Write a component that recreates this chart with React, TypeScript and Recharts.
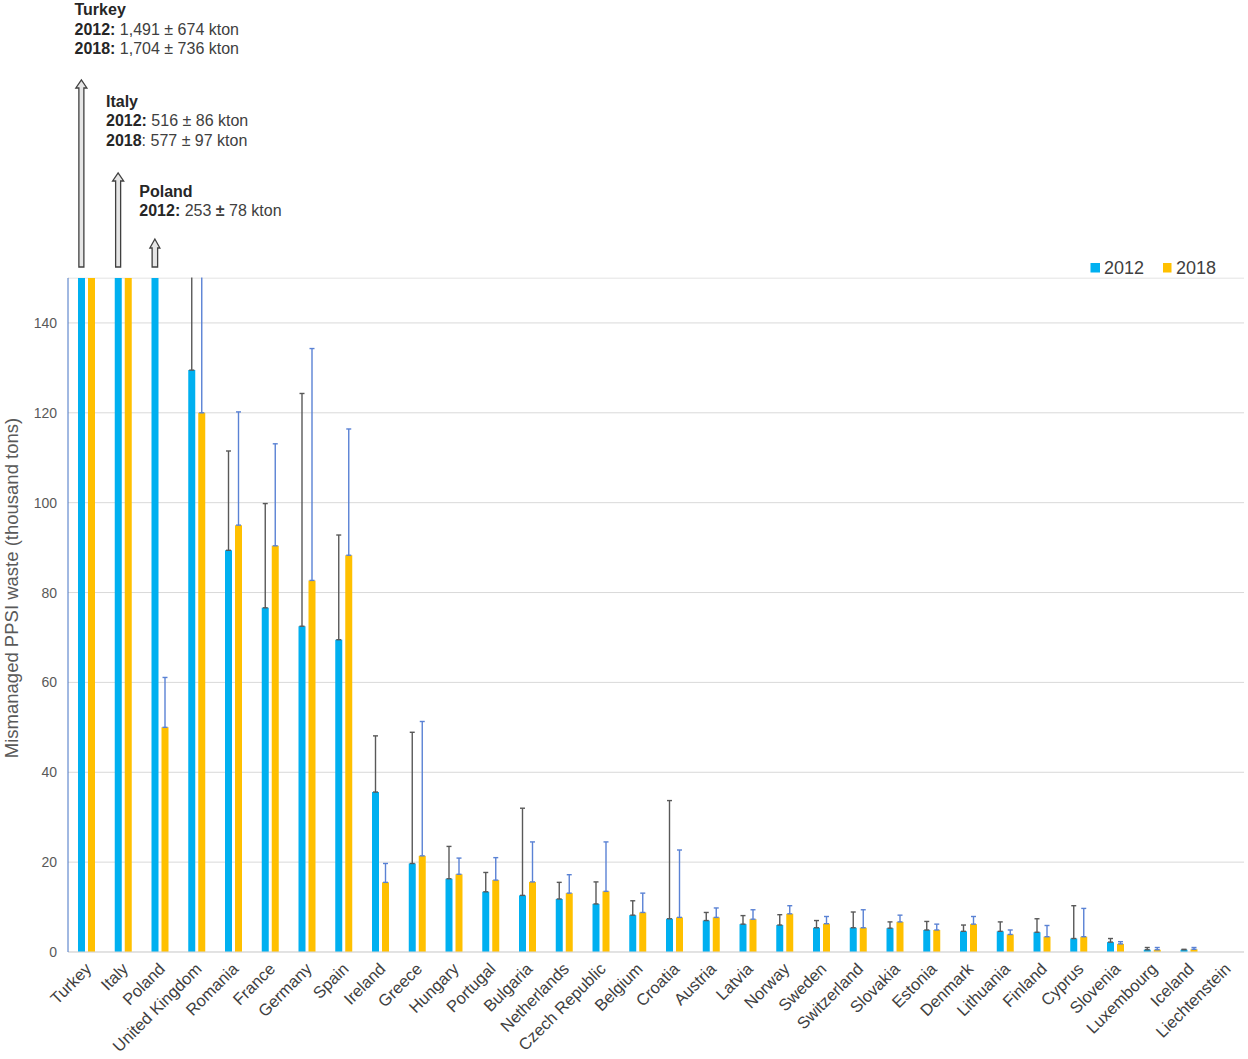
import { Bar, BarChart, CartesianGrid, ErrorBar, XAxis, YAxis } from "recharts";

const countries = [
  "Turkey", "Italy", "Poland", "United Kingdom", "Romania", "France", "Germany", "Spain",
  "Ireland", "Greece", "Hungary", "Portugal", "Bulgaria", "Netherlands", "Czech Republic", "Belgium",
  "Croatia", "Austria", "Latvia", "Norway", "Sweden", "Switzerland", "Slovakia", "Estonia",
  "Denmark", "Lithuania", "Finland", "Cyprus", "Slovenia", "Luxembourg", "Iceland", "Liechtenstein",
];

// thousand tons
const values2012 = [
  1491, 516, 253, 129.5, 89.4, 76.6, 72.5, 69.5,
  35.6, 19.7, 16.3, 13.4, 12.6, 11.8, 10.7, 8.2,
  7.4, 7.0, 6.2, 6.0, 5.4, 5.4, 5.3, 4.9,
  4.6, 4.6, 4.4, 3.0, 2.2, 0.5, 0.5, 0,
];
const upper2012 = [
  674, 86, 78, 45, 22.1, 23.2, 51.8, 23.3,
  12.5, 29.2, 7.2, 4.3, 19.4, 3.7, 4.9, 3.2,
  26.3, 1.8, 1.9, 2.3, 1.6, 3.5, 1.4, 1.9,
  1.4, 2.1, 3.0, 7.3, 0.8, 0.5, 0.1, 0,
];
const values2018 = [
  1704, 577, 50, 120, 95.0, 90.4, 82.7, 88.3,
  15.5, 21.4, 17.3, 16.0, 15.6, 13.1, 13.5, 8.8,
  7.7, 7.7, 7.3, 8.5, 6.3, 5.4, 6.7, 4.9,
  6.2, 3.9, 3.4, 3.4, 1.8, 0.5, 0.6, 0,
];
const upper2018 = [
  736, 97, 11.1, 40, 25.2, 22.7, 51.6, 28.1,
  4.2, 29.9, 3.6, 5.0, 8.9, 4.1, 11.0, 4.3,
  15.0, 2.1, 2.1, 1.8, 1.6, 4.0, 1.5, 1.3,
  1.7, 1.0, 2.5, 6.3, 0.5, 0.5, 0.4, 0,
];
const yTicks = [0, 20, 40, 60, 80, 100, 120, 140];

const data = countries.map((country, i) => ({
  country,
  y2012: values2012[i],
  y2018: values2018[i],
  e2012: [0, upper2012[i]],
  e2018: [0, upper2018[i]],
}));

const FONT = "'Liberation Sans', Arial, sans-serif";
const W = 1248;
const H = 1059;
const PLOT_LEFT = 68;
const PLOT_TOP = 278;
const PLOT_W = 1176;
const band = PLOT_W / countries.length;
const blueX = (i: number) => PLOT_LEFT + band * (i + 0.5) - 5;

// callouts for the off-scale bars
const arrows = [
  { i: 0, top: 80, headH: 8, headW: 11, shaftW: 5 },
  { i: 1, top: 173, headH: 8, headW: 11, shaftW: 5 },
  { i: 2, top: 239, headH: 9, headW: 10, shaftW: 5.5 },
];

function CountryTick(props: any) {
  const { x, y, payload } = props;
  const ax = x + 6;
  const ay = y + 10;
  return (
    <text
      x={ax}
      y={ay}
      textAnchor="end"
      transform={`rotate(-45, ${ax}, ${ay})`}
      fontSize={16.5}
      fill="#404040"
      fontFamily={FONT}
    >
      {payload.value}
    </text>
  );
}

function YLabel(props: any) {
  const { viewBox } = props;
  const cx = 17.5;
  const cy = viewBox.y + viewBox.height / 2 - 27;
  return (
    <text
      x={cx}
      y={cy}
      textAnchor="middle"
      transform={`rotate(-90, ${cx}, ${cy})`}
      fontSize={18.5}
      fill="#595959"
      fontFamily={FONT}
    >
      Mismanaged PPSI waste (thousand tons)
    </text>
  );
}

function arrowPath(cx: number, top: number, bottom: number, headH: number, headW: number, shaftW: number) {
  const s = shaftW / 2;
  const h = headW / 2;
  return `M${cx - s},${bottom} L${cx - s},${top + headH} L${cx - h},${top + headH} L${cx},${top} L${cx + h},${top + headH} L${cx + s},${top + headH} L${cx + s},${bottom} Z`;
}

export default function App() {
  return (
    <div style={{ position: "relative", width: W, height: H, fontFamily: FONT }}>
      <style>{"body{margin:0}"}</style>
      <BarChart
        width={W}
        height={H}
        data={data}
        margin={{ top: PLOT_TOP, right: W - PLOT_LEFT - PLOT_W, bottom: 0, left: 0 }}
        barSize={7}
        barGap={3}
      >
        <CartesianGrid vertical={false} stroke="#d9d9d9" />
        <XAxis
          dataKey="country"
          interval={0}
          height={107}
          tickLine={false}
          axisLine={{ stroke: "#d9d9d9" }}
          tick={<CountryTick />}
        />
        <YAxis
          domain={[0, 150]}
          allowDataOverflow
          ticks={yTicks}
          width={PLOT_LEFT}
          tickLine={false}
          axisLine={{ stroke: "#4472c4" }}
          tick={{ fill: "#595959", fontSize: 14, fontFamily: FONT }}
          tickMargin={5}
          label={<YLabel />}
        />
        <Bar dataKey="y2012" fill="#00b0f0" isAnimationActive={false}>
          <ErrorBar dataKey="e2012" direction="y" width={2.5} stroke="#595959" strokeWidth={1.4} />
        </Bar>
        <Bar dataKey="y2018" fill="#ffc000" isAnimationActive={false}>
          <ErrorBar dataKey="e2018" direction="y" width={2.5} stroke="#5a82d4" strokeWidth={1.4} />
        </Bar>
      </BarChart>

      <svg width={W} height={H} style={{ position: "absolute", left: 0, top: 0, pointerEvents: "none" }}>
        {/* the plot is cut at 150: hide whiskers that run past the top */}
        <rect x={PLOT_LEFT + 1} y={0} width={PLOT_W} height={PLOT_TOP - 0.5} fill="#ffffff" />

        {arrows.map((a) => (
          <path
            key={a.i}
            d={arrowPath(blueX(a.i), a.top, PLOT_TOP - 11, a.headH, a.headW, a.shaftW)}
            fill="#e6e6e6"
            stroke="#404040"
            strokeWidth={1.3}
          />
        ))}

        <g fontSize={16} fontFamily={FONT} fill="#404040">
          <text x={74.5} y={15} fontWeight="bold" fill="#262626">Turkey</text>
          <text x={74.5} y={35}>
            <tspan fontWeight="bold" fill="#262626">2012:</tspan> 1,491 ± 674 kton
          </text>
          <text x={74.5} y={54}>
            <tspan fontWeight="bold" fill="#262626">2018:</tspan> 1,704 ± 736 kton
          </text>

          <text x={106} y={107} fontWeight="bold" fill="#262626">Italy</text>
          <text x={106} y={126}>
            <tspan fontWeight="bold" fill="#262626">2012:</tspan> 516 ± 86 kton
          </text>
          <text x={106} y={145.5}>
            <tspan fontWeight="bold" fill="#262626">2018</tspan>: 577 ± 97 kton
          </text>

          <text x={139.3} y={196.5} fontWeight="bold" fill="#262626">Poland</text>
          <text x={139.3} y={216}>
            <tspan fontWeight="bold" fill="#262626">2012:</tspan> 253 <tspan fontWeight="bold">±</tspan> 78 kton
          </text>
        </g>

        <g fontSize={18} fontFamily={FONT} fill="#404040">
          <rect x={1090.5} y={263} width={9.5} height={9.5} fill="#00b0f0" />
          <text x={1104} y={273.5}>2012</text>
          <rect x={1163} y={263} width={8.5} height={9.5} fill="#ffc000" />
          <text x={1176} y={273.5}>2018</text>
        </g>
      </svg>
    </div>
  );
}
